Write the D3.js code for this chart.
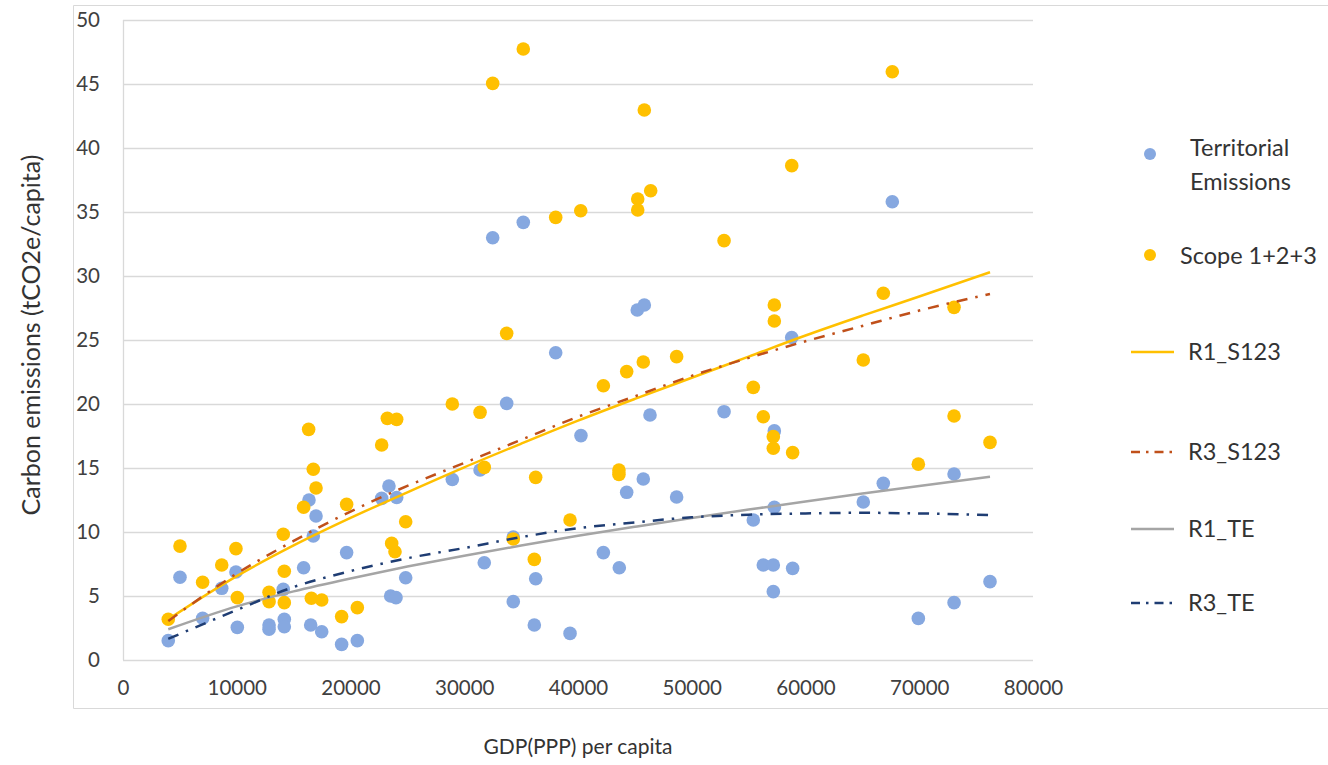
<!DOCTYPE html>
<html>
<head>
<meta charset="utf-8">
<script src="https://cdn.jsdelivr.net/npm/d3@7/dist/d3.min.js"></script>
<style>
  html, body { margin: 0; padding: 0; background: #fff; }
  svg { display: block; font-family: Lato, "Open Sans", sans-serif; }
</style>
</head>
<body>
<svg id="chart" width="1328" height="765"></svg>
<script>
// Territorial emissions (tCO2e/capita) vs GDP(PPP) per capita
const teGdp = [3980, 5010, 7000, 8680, 9930, 10050, 12840, 12840, 14090, 14180, 14180, 15880, 16350, 16730, 16970, 16500, 17470, 19220, 20600, 19660,
  22740, 23380, 24060, 23530, 24000, 24850, 28950, 31390, 31760, 32500, 35190, 33730, 34310, 34310, 36160, 36280, 38040, 39300, 40260, 42230,
  43630, 44280, 45210, 45830, 45740, 46330, 48670, 52840, 55410, 56290, 57170, 57170, 57260, 57260, 58790, 58870, 65080, 66840, 67630, 69920,
  73060, 73060, 76220];
const teVals = [1.51, 6.46, 3.26, 5.6, 6.87, 2.55, 2.73, 2.4, 5.52, 3.18, 2.6, 7.21, 12.5, 9.69, 11.25, 2.73, 2.21, 1.22, 1.51, 8.39,
  12.63, 13.59, 12.7, 5.0, 4.87, 6.43, 14.1, 14.84, 7.6, 32.99, 34.19, 20.05, 9.6, 4.56, 2.73, 6.35, 24.0, 2.08, 17.53, 8.39,
  7.21, 13.1, 27.34, 27.73, 14.14, 19.14, 12.73, 19.4, 10.94, 7.42, 7.42, 5.34, 17.9, 11.93, 25.2, 7.16, 12.34, 13.8, 35.8, 3.25,
  14.53, 4.48, 6.12];

// Scope 1+2+3 emissions
const s123Gdp = [3980, 5010, 7000, 8680, 9930, 10050, 12840, 12840, 14090, 14180, 14180, 15880, 16320, 16730, 16970, 16560, 17470, 19220, 20600, 19660,
  22740, 23240, 24060, 23620, 23910, 24850, 28950, 31390, 31760, 32500, 35190, 33730, 34310, 36160, 36280, 38040, 39300, 40240, 42230, 43600,
  43600, 44280, 45250, 45250, 45830, 45740, 46390, 48670, 52840, 55410, 56290, 57170, 57170, 57260, 57260, 58790, 58870, 65080, 66840, 67630,
  69920, 73060, 73060, 76220];
const s123Vals = [3.18, 8.9, 6.07, 7.42, 8.7, 4.87, 5.29, 4.56, 9.82, 6.93, 4.48, 11.93, 18.02, 14.9, 13.44, 4.82, 4.69, 3.39, 4.09, 12.16,
  16.8, 18.88, 18.8, 9.11, 8.46, 10.8, 20.0, 19.35, 15.05, 45.05, 47.73, 25.52, 9.45, 7.86, 14.27, 34.58, 10.94, 35.1, 21.43, 14.84,
  14.5, 22.53, 36.02, 35.16, 42.97, 23.28, 36.66, 23.7, 32.76, 21.3, 19.0, 17.45, 16.54, 27.73, 26.48, 38.62, 16.2, 23.44, 28.65, 45.96,
  15.3, 27.55, 19.06, 17.0];

// trend lines at these GDP values
const trendGdp = [3980, 10000, 15000, 20000, 25000, 30000, 35000, 40000, 45000, 50000, 55000, 60000, 65000, 70000, 76220];
const r1S123 = [3.18, 6.55, 8.95, 11.1, 13.1, 15.05, 16.9, 18.7, 20.4, 22.05, 23.7, 25.35, 26.9, 28.4, 30.3];
const r3S123 = [3.05, 6.75, 9.3, 11.6, 13.6, 15.4, 17.2, 19.0, 20.6, 22.2, 23.6, 24.9, 26.1, 27.3, 28.6];
const r1TE = [2.4, 4.19, 5.36, 6.37, 7.3, 8.15, 8.94, 9.7, 10.41, 11.1, 11.75, 12.39, 13.0, 13.6, 14.32];
const r3TE = [1.65, 3.9, 5.7, 6.95, 7.95, 8.75, 9.6, 10.3, 10.75, 11.15, 11.35, 11.45, 11.5, 11.45, 11.33];

const xTicks = [0, 10000, 20000, 30000, 40000, 50000, 60000, 70000, 80000];
const yTicks = [0, 5, 10, 15, 20, 25, 30, 35, 40, 45, 50];

const C_TE = '#86a8e0';
const C_S = '#ffc000';
const DASHDOT = '11 8 2.5 8';
const FONT = 'Lato, sans-serif';

const svg = d3.select('#chart');
const x = d3.scaleLinear().domain([0, 80000]).range([123, 1033]);
const y = d3.scaleLinear().domain([0, 50]).range([660, 20]);

// chart frame
svg.append('path')
  .attr('d', 'M1330,5.5 H73.5 V708.5 H1330')
  .attr('fill', 'none').attr('stroke', '#d9d9d9').attr('stroke-width', 1);

// gridlines
svg.append('g').selectAll('line').data(yTicks).join('line')
  .attr('x1', x(0)).attr('x2', x(80000))
  .attr('y1', d => y(d) + 0.5).attr('y2', d => y(d) + 0.5)
  .attr('stroke', '#d9d9d9').attr('stroke-width', 1.3);

svg.append('line')
  .attr('x1', x(0) + 0.5).attr('x2', x(0) + 0.5)
  .attr('y1', y(50)).attr('y2', y(0))
  .attr('stroke', '#d9d9d9').attr('stroke-width', 1.3);

// axes (labels only, Excel style)
const yAxis = d3.axisLeft(y).tickValues(yTicks).tickSize(0).tickPadding(23);
const gy = svg.append('g').attr('transform', `translate(${x(0)},0)`).call(yAxis);
const xAxis = d3.axisBottom(x).tickValues(xTicks).tickSize(0).tickPadding(20).tickFormat(d3.format('d'));
const gx = svg.append('g').attr('transform', `translate(0,${y(0)})`).call(xAxis);
for (const g of [gx, gy]) {
  g.select('.domain').remove();
  g.selectAll('text').attr('font-family', FONT).attr('font-size', 20.5).attr('fill', '#404040');
}

// points
svg.append('g').selectAll('circle').data(teGdp).join('circle')
  .attr('cx', d => x(d)).attr('cy', (d, i) => y(teVals[i])).attr('r', 6.8)
  .attr('fill', C_TE);
svg.append('g').selectAll('circle').data(s123Gdp).join('circle')
  .attr('cx', d => x(d)).attr('cy', (d, i) => y(s123Vals[i])).attr('r', 6.8)
  .attr('fill', C_S);

// trend lines
const line = vals => d3.line()
  .x(d => x(d))
  .y((d, i) => y(vals[i]))
  .curve(d3.curveMonotoneX)(trendGdp);

const TRENDS = [
  { vals: r1TE, color: '#a5a5a5', dash: null, label: 'R1_TE' },
  { vals: r3TE, color: '#1f3d73', dash: DASHDOT, label: 'R3_TE' },
  { vals: r1S123, color: '#ffc000', dash: null, label: 'R1_S123' },
  { vals: r3S123, color: '#c0501a', dash: DASHDOT, label: 'R3_S123' },
];
for (const t of TRENDS) {
  svg.append('path').attr('d', line(t.vals))
    .attr('fill', 'none').attr('stroke', t.color).attr('stroke-width', 2.5)
    .attr('stroke-dasharray', t.dash);
}

// legend
const lg = svg.append('g').attr('font-family', FONT).attr('font-size', 23.5).attr('fill', '#333');
lg.append('circle').attr('cx', 1150).attr('cy', 154).attr('r', 6).attr('fill', C_TE);
lg.append('text').attr('x', 1190).attr('y', 148).attr('dy', '0.35em').text('Territorial');
lg.append('text').attr('x', 1190).attr('y', 182).attr('dy', '0.35em').text('Emissions');
lg.append('circle').attr('cx', 1150).attr('cy', 255).attr('r', 6).attr('fill', C_S);
lg.append('text').attr('x', 1180).attr('y', 256).attr('dy', '0.35em').text('Scope 1+2+3');

const legendLines = [
  { t: TRENDS[2], y: 352 },
  { t: TRENDS[3], y: 452 },
  { t: TRENDS[0], y: 529 },
  { t: TRENDS[1], y: 603 },
];
for (const l of legendLines) {
  lg.append('line').attr('x1', 1131).attr('x2', 1174).attr('y1', l.y).attr('y2', l.y)
    .attr('stroke', l.t.color).attr('stroke-width', 2.5)
    .attr('stroke-dasharray', l.t.dash ? '9 6 2.5 6' : null);
  lg.append('text').attr('x', 1188).attr('y', l.y).attr('dy', '0.35em').text(l.t.label);
}

// axis titles
svg.append('text')
  .attr('transform', 'translate(31,335) rotate(-90)')
  .attr('text-anchor', 'middle').attr('dy', '0.35em')
  .attr('font-family', FONT).attr('font-size', 25).attr('fill', '#333')
  .text('Carbon emissions (tCO2e/capita)');
svg.append('text')
  .attr('x', 578).attr('y', 747).attr('text-anchor', 'middle').attr('dy', '0.35em')
  .attr('font-family', FONT).attr('font-size', 21).attr('fill', '#333')
  .text('GDP(PPP) per capita');
</script>
</body>
</html>
